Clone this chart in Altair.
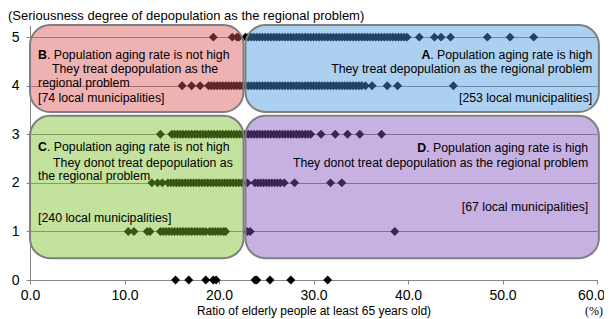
import altair as alt
import pandas as pd

FONT = "Liberation Sans"

# ---- data: ratio of elderly people (%) for each seriousness level ----
x_level0 = [15.4, 16.8, 18.6, 19.4, 19.7, 23.8, 24.0, 25.4, 27.6, 31.5]
x_level1 = [10.4, 11.0, 12.4, 12.7, 13.8, 14.1, 14.4, 14.7, 15.0, 15.3, 15.6, 15.9,
            16.2, 16.5, 16.8, 17.1, 17.4, 17.7, 18.0, 18.3, 18.6, 19.0, 19.3, 19.6,
            19.9, 20.2, 20.5, 20.7, 23.0, 23.3, 38.6]
x_level2 = [12.9, 13.5, 14.0, 14.6, 14.9, 15.2, 15.5, 15.8, 16.1, 16.4, 16.7, 17.0,
            17.3, 17.6, 17.9, 18.2, 18.5, 18.8, 19.1, 19.4, 19.7, 20.0, 20.3, 20.6,
            20.9, 21.2, 21.5, 21.8, 22.1, 22.4, 23.0, 23.8, 24.1, 24.4, 24.7, 25.0,
            25.3, 25.6, 25.9, 26.2, 26.5, 26.9, 28.0, 31.8, 33.0]
x_level3 = [13.8, 15.0, 15.3, 15.6, 15.9, 16.2, 16.5, 16.8, 17.1, 17.4, 17.7, 18.0,
            18.3, 18.6, 18.9, 19.2, 19.5, 19.8, 20.1, 20.4, 20.7, 21.0, 21.3, 21.6,
            21.9, 22.2, 22.5, 22.8, 23.1, 23.4, 23.7, 24.0, 24.3, 24.6, 24.9, 25.2,
            25.5, 25.8, 26.1, 26.4, 26.7, 27.0, 27.3, 27.6, 27.9, 28.2, 28.5, 28.8,
            29.1, 29.4, 29.7, 30.8, 32.3, 33.6, 34.9, 37.2]
x_level4 = [16.1, 17.1, 18.0, 18.9, 19.2, 19.5, 19.8, 20.1, 20.4, 20.7, 21.0, 21.3,
            21.6, 21.9, 22.2, 22.5, 22.8, 23.1, 23.4, 23.7, 24.0, 24.3, 24.6, 24.9,
            25.2, 25.5, 25.8, 26.1, 26.4, 26.7, 27.0, 27.3, 27.6, 27.9, 28.2, 28.5,
            28.8, 29.1, 29.4, 29.7, 30.0, 30.3, 30.6, 30.9, 31.2, 31.5, 31.8, 32.1,
            32.4, 32.7, 33.0, 33.3, 33.6, 33.9, 34.2, 34.5, 34.8, 35.1, 35.5, 36.2,
            37.8, 38.9, 44.8]
x_level5 = [19.4, 21.4, 21.9, 22.1, 22.8, 23.1, 23.4, 23.7, 24.0, 24.3, 24.6, 24.9,
            25.2, 25.5, 25.8, 26.1, 26.4, 26.7, 27.0, 27.3, 27.6, 27.9, 28.2, 28.5,
            28.8, 29.1, 29.4, 29.7, 30.0, 30.3, 30.6, 30.9, 31.2, 31.5, 31.8, 32.1,
            32.4, 32.7, 33.0, 33.3, 33.6, 33.9, 34.2, 34.5, 34.8, 35.1, 35.4, 35.7,
            36.0, 36.3, 36.6, 36.9, 37.2, 37.5, 37.8, 38.1, 38.4, 38.7, 39.0, 39.3,
            39.6, 39.9, 41.2, 42.8, 43.5, 44.5, 48.4, 50.8, 53.3]

levels = [0, 1, 2, 3, 4, 5]
x_ticks = [0, 10, 20, 30, 40, 50, 60]

# ---- quadrant boxes ----
box_names = ["B", "A", "C", "D"]
box_x0 = [0.0, 22.8, 0.0, 22.8]
box_x1 = [22.6, 60.2, 22.6, 60.2]
box_y0 = [3.46, 3.46, 0.45, 0.45]
box_y1 = [5.25, 5.25, 3.38, 3.38]
box_colors = ["#dc5555", "#4696dc", "#78be28", "#8250be"]

# ---- annotation texts ----
bold_left = ["B", "C"]
bold_left_x = [0.85, 0.85]
bold_left_y = [4.63, 2.74]
after_bold_left = [". Population aging rate is not high", ". Population aging rate is not high"]

bold_right = ["A", "D"]
bold_right_x = [59.5, 59.07]
bold_right_y = [4.63, 2.72]
after_bold_right = [". Population aging rate is high", ". Population aging rate is high"]

left_texts = ["They treat depopulation as the", "regional problem", "[74 local municipalities]",
              "They donot treat depopulation as", "the regional problem", "[240 local municipalities]"]
left_x = [2.33, 0.85, 0.85, 2.44, 0.85, 0.85]
left_y = [4.34, 4.05, 3.75, 2.41, 2.14, 1.28]

right_texts = ["They treat depopulation as the regional problem", "[253 local municipalities]",
               "They donot treat depopulation as the regional problem", "[67 local municipalities]"]
right_x = [59.5, 59.5, 59.07, 59.07]
right_y = [4.34, 3.75, 2.41, 1.50]

# ---- tables ----
all_x, all_y = [], []
for lv, xs in zip(levels, [x_level0, x_level1, x_level2, x_level3, x_level4, x_level5]):
    all_x += xs
    all_y += [lv] * len(xs)
points = pd.DataFrame({"ratio": all_x, "level": all_y})
boxes = pd.DataFrame({"name": box_names, "x0": box_x0, "x1": box_x1,
                      "y0": box_y0, "y1": box_y1, "color": box_colors})
tb_left = pd.DataFrame({"t": bold_left, "x": bold_left_x, "y": bold_left_y, "rest": after_bold_left})
tb_right = pd.DataFrame({"t": bold_right, "x": bold_right_x, "y": bold_right_y, "rest": after_bold_right})
tl = pd.DataFrame({"t": left_texts, "x": left_x, "y": left_y})
tr = pd.DataFrame({"t": right_texts, "x": right_x, "y": right_y})

xscale = alt.Scale(domain=[0, 60], nice=False, zero=False)
yscale = alt.Scale(domain=[0, 5.25], nice=False, zero=False)

xaxis = alt.Axis(values=x_ticks, format=".1f", grid=False, labelFlush=False,
                 labelOffset={"condition": {"test": "datum.value === 60", "value": -6}, "value": 0},
                 title="Ratio of elderly people at least 65 years old)",
                 titleFont=FONT, titleFontSize=12, titleFontWeight="normal", titleColor="black",
                 titlePadding=3,
                 labelFont=FONT, labelFontSize=14, labelColor="black", labelPadding=4,
                 tickSize=4, tickColor="#868686", domainColor="#868686")
yaxis = alt.Axis(values=levels, format="d", grid=True, gridColor="#868686", gridWidth=1,
                 title=None, labelFont=FONT, labelFontSize=14, labelColor="black", labelPadding=7,
                 tickSize=4, tickColor="#868686", domainColor="#868686")

pts = alt.Chart(points).mark_point(shape="diamond", filled=True, size=80, color="black", opacity=1).encode(
    x=alt.X("ratio:Q", scale=xscale, axis=xaxis),
    y=alt.Y("level:Q", scale=yscale, axis=yaxis),
)

rects = alt.Chart(boxes).mark_rect(cornerRadius=20, fillOpacity=0.45, stroke="#7f7f7f",
                                   strokeWidth=2, strokeOpacity=1).encode(
    x=alt.X("x0:Q", scale=xscale), x2="x1:Q",
    y=alt.Y("y0:Q", scale=yscale), y2="y1:Q",
    fill=alt.Fill("color:N", scale=None),
)

FS = 12.3
txt_kw = dict(font=FONT, fontSize=FS, color="black", baseline="middle")

t_bl = alt.Chart(tb_left).mark_text(align="left", fontWeight="bold", **txt_kw).encode(
    x=alt.X("x:Q", scale=xscale), y=alt.Y("y:Q", scale=yscale), text="t:N")
t_bl2 = alt.Chart(tb_left).mark_text(align="left", dx=8.9, **txt_kw).encode(
    x=alt.X("x:Q", scale=xscale), y=alt.Y("y:Q", scale=yscale), text="rest:N")
t_br = alt.Chart(tb_right).mark_text(align="right", fontWeight="bold", dx=-162, **txt_kw).encode(
    x=alt.X("x:Q", scale=xscale), y=alt.Y("y:Q", scale=yscale), text="t:N")
t_br2 = alt.Chart(tb_right).mark_text(align="right", **txt_kw).encode(
    x=alt.X("x:Q", scale=xscale), y=alt.Y("y:Q", scale=yscale), text="rest:N")
t_l = alt.Chart(tl).mark_text(align="left", **txt_kw).encode(
    x=alt.X("x:Q", scale=xscale), y=alt.Y("y:Q", scale=yscale), text="t:N")
t_r = alt.Chart(tr).mark_text(align="right", **txt_kw).encode(
    x=alt.X("x:Q", scale=xscale), y=alt.Y("y:Q", scale=yscale), text="t:N")

pct = alt.Chart(pd.DataFrame({"t": ["(%)"]})).mark_text(
    font="Liberation Serif", fontSize=12, color="black", align="center", baseline="middle").encode(
    x=alt.value(564), y=alt.value(286), text="t:N")

chart = alt.layer(pts, rects, t_bl, t_bl2, t_br, t_br2, t_l, t_r, pct).properties(
    width=567, height=255,
    title=alt.Title("(Seriousness degree of depopulation as the regional problem)",
                    anchor="start", dx=-22, offset=1, font=FONT, fontSize=13,
                    fontWeight="normal", color="black", frame="group"),
    autosize=alt.AutoSizeParams(type="none"),
    padding={"left": 22, "top": 17, "right": 7, "bottom": 39},
).configure_view(stroke=None)

chart.save("out.html", embed_options={"renderer": "svg", "actions": False})
